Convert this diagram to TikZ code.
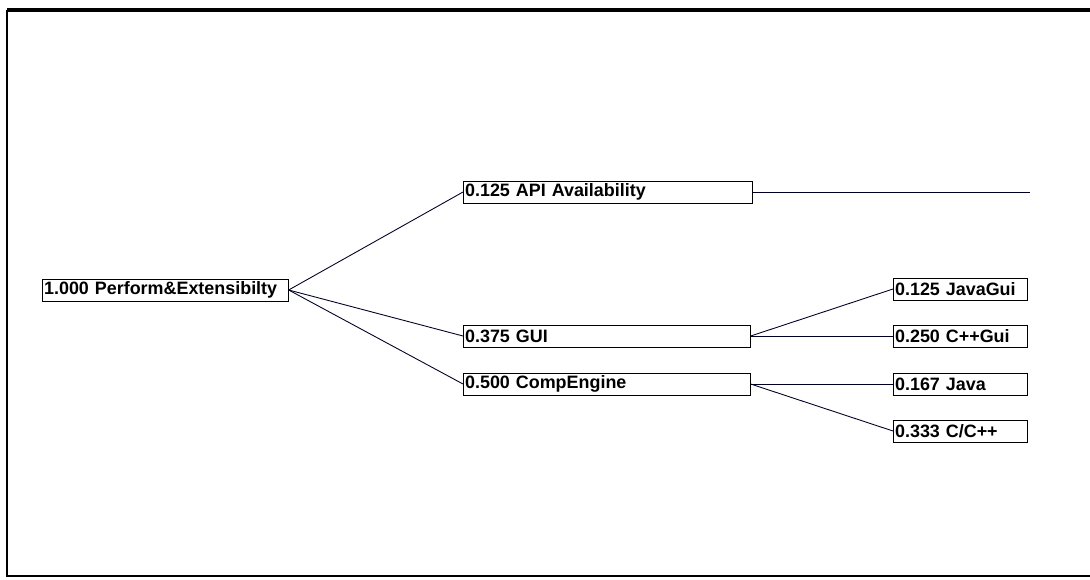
\documentclass[tikz,border=0pt]{standalone}
\usepackage{fontspec}
\setmainfont{Liberation Sans}
\usepackage{tikz}

\tikzset{
	weight/.style={draw, anchor=west, inner xsep=1pt, inner ysep=0pt, minimum height=0.44cm, align=left, font=\bfseries\fontsize{10.2}{11}\selectfont},
	edge/.style={draw=black!85!blue, line width=0.5pt}
}

\begin{document}
\begin{tikzpicture}[x=0.02cm, y=-0.02cm]
		\useasboundingbox (0, 0) rectangle (1090, 579);
		\draw [line width=2pt] (7, 10) -- (1090, 10);
		\draw [line width=1.2pt] (7, 10) -- (7, 576) -- (1090, 576);
		\node [weight, text width=4.85cm] (root) at (42, 290) {1.000 Perform\&Extensibilty};
		\node [weight, text width=5.71cm] (api) at (463, 192) {0.125 API Availability};
		\node [weight, text width=5.67cm] (gui) at (463, 336) {0.375 GUI};
		\node [weight, text width=5.67cm] (comp) at (463, 384) {0.500 CompEngine};
		\node [weight, text width=2.61cm] (javagui) at (893, 289) {0.125 JavaGui};
		\node [weight, text width=2.61cm] (cppgui) at (893, 336) {0.250 C++Gui};
		\node [weight, text width=2.61cm] (java) at (893, 384) {0.167 Java};
		\node [weight, text width=2.61cm] (ccpp) at (893, 431) {0.333 C/C++};
		\coordinate (apiend) at (1030, 192);
		\draw [edge] (root.east) -- (api.west);
		\draw [edge] (root.east) -- (gui.west);
		\draw [edge] (root.east) -- (comp.west);
		\draw [edge] (api.east) -- (apiend);
		\draw [edge] (gui.east) -- (javagui.west);
		\draw [edge] (gui.east) -- (cppgui.west);
		\draw [edge] (comp.east) -- (java.west);
		\draw [edge] (comp.east) -- (ccpp.west);
	\end{tikzpicture}
\end{document}
